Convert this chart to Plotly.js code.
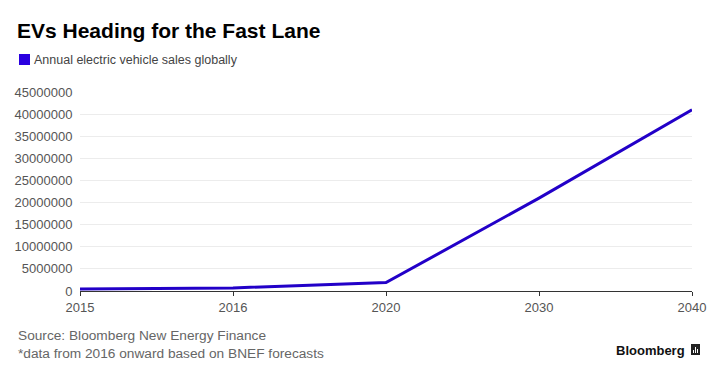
<!DOCTYPE html>
<html>
<head>
<meta charset="utf-8">
<script src="https://cdn.plot.ly/plotly-3.0.1.min.js"></script>
<style>html,body{margin:0;padding:0;background:#fff;}#chart{width:720px;height:376px;}</style>
</head>
<body>
<div id="chart"></div>
<script>
var years = ["2015", "2016", "2020", "2030", "2040"];
var evSales = [460000, 700000, 1900000, 21000000, 41000000];
var seriesName = "Annual electric vehicle sales globally";
var yTicks = [0, 5000000, 10000000, 15000000, 20000000, 25000000, 30000000, 35000000, 40000000, 45000000];

var font = "Liberation Sans, Arial, Helvetica, sans-serif";

var trace = {
  x: years,
  y: evSales,
  type: "scatter",
  mode: "lines",
  name: seriesName,
  line: {color: "#2200c8", width: 3},
  showlegend: false,
  hoverinfo: "x+y"
};

var layout = {
  width: 720, height: 376,
  margin: {l: 80, r: 28, t: 92, b: 85},
  paper_bgcolor: "#fff", plot_bgcolor: "#fff",
  font: {family: font, color: "#555", size: 13},
  title: {text: "<b>EVs Heading for the Fast Lane</b>", x: 17/720, xanchor: "left", y: 1 - 31/376, yanchor: "middle",
          font: {family: font, size: 21, color: "#000"}},
  xaxis: {
    type: "category", range: [0, 4], showgrid: false, zeroline: false,
    showline: true, linecolor: "#333", linewidth: 1,
    ticks: "outside", ticklen: 4, tickcolor: "#333", tickwidth: 1,
    tickfont: {family: font, size: 13, color: "#555"}, fixedrange: true
  },
  yaxis: {
    range: [0, 45000000], tickvals: yTicks, ticktext: yTicks.map(String),
    showgrid: true, gridcolor: "#ececec", gridwidth: 1, zeroline: false, showline: false,
    ticks: "outside", ticklen: 4, tickcolor: "rgba(0,0,0,0)",
    tickfont: {family: font, size: 13, color: "#555"}, fixedrange: true
  },
  shapes: [
    {type: "rect", xref: "paper", yref: "paper",
     x0: -61/612, x1: -50/612, y0: (291-54)/199, y1: (291-65)/199,
     fillcolor: "#2a00e0", line: {width: 0}},
    {type: "rect", xref: "paper", yref: "paper",
     x0: (691-80)/612, x1: (700-80)/612, y0: (291-344)/199, y1: (291-355)/199,
     fillcolor: "#222", line: {width: 0}},
    {type: "rect", xref: "paper", yref: "paper",
     x0: (693-80)/612, x1: (694-80)/612, y0: (291-350)/199, y1: (291-353)/199,
     fillcolor: "#fff", line: {width: 0}},
    {type: "rect", xref: "paper", yref: "paper",
     x0: (695-80)/612, x1: (696-80)/612, y0: (291-347)/199, y1: (291-353)/199,
     fillcolor: "#fff", line: {width: 0}},
    {type: "rect", xref: "paper", yref: "paper",
     x0: (697-80)/612, x1: (698-80)/612, y0: (291-349)/199, y1: (291-353)/199,
     fillcolor: "#fff", line: {width: 0}}
  ],
  annotations: [
    {text: seriesName, xref: "paper", yref: "paper", x: -48/612, y: (291-60)/199,
     xanchor: "left", yanchor: "middle", showarrow: false,
     font: {family: font, size: 12.5, color: "#444"}},
    {text: "Source: Bloomberg New Energy Finance<br>*data from 2016 onward based on BNEF forecasts",
     xref: "paper", yref: "paper", x: -64/612, y: (291-326)/199,
     xanchor: "left", yanchor: "top", align: "left", showarrow: false,
     font: {family: font, size: 13.7, color: "#666"}},
    {text: "<b>Bloomberg</b>", xref: "paper", yref: "paper", x: (687-80)/612, y: (291-350)/199,
     xanchor: "right", yanchor: "middle", showarrow: false,
     font: {family: font, size: 13, color: "#111"}}
  ]
};

Plotly.newPlot("chart", [trace], layout, {displayModeBar: false, staticPlot: true});
</script>
</body>
</html>
